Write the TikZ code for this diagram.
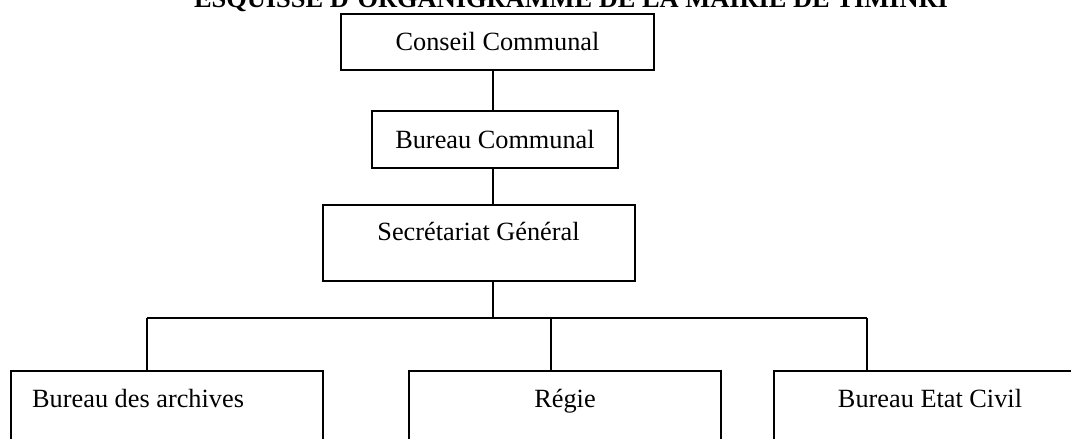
\documentclass[tikz,border=0pt]{standalone}
\usepackage{fontspec}
\setmainfont{Liberation Serif}
\begin{document}
\begin{tikzpicture}[x=1pt,y=-1pt,
  box/.style={draw=black,line width=1.6pt,inner sep=0pt,rectangle,
    font=\fontsize{26.3}{30}\selectfont},
  lbl/.style={inner sep=0pt,font=\fontsize{26.3}{30}\selectfont},
  ttl/.style={inner sep=0pt,font=\fontsize{26.4}{30}\selectfont\bfseries},
  link/.style={line width=1.6pt}]
\useasboundingbox (0,0) rectangle (1071,439);
\clip (0,0) rectangle (1071,439);
\fill[white] (0,0) rectangle (1071,439);
\node[ttl,anchor=base] (title) at (571,7) {ESQUISSE D'ORGANIGRAMME DE LA MAIRIE DE TIMINRI};
\node[box,minimum width=313pt,minimum height=56pt] (cc) at (497.5,42) {Conseil Communal};
\node[box,minimum width=246pt,minimum height=57pt] (bc) at (495,139.5) {Bureau Communal};
\node[box,minimum width=312pt,minimum height=76pt] (sg) at (479,243) {};
\node[lbl,anchor=base] (sgt) at (478.5,240) {Secrétariat Général};
\node[box,minimum width=312pt,minimum height=110pt] (b1) at (167,426) {};
\node[box,minimum width=312pt,minimum height=110pt] (b2) at (565,426) {};
\node[box,minimum width=312pt,minimum height=110pt] (b3) at (930,426) {};
\node[lbl,anchor=base west] (b1t) at (32,407) {Bureau des archives};
\node[lbl,anchor=base] (b2t) at (565,407) {Régie};
\node[lbl,anchor=base] (b3t) at (930,407) {Bureau Etat Civil};
\coordinate (spine) at (493,0);
\coordinate (j1) at (147,318);
\coordinate (j2) at (551,318);
\coordinate (j3) at (867,318);
\draw[link] (cc.south -| spine) -- (bc.north -| spine);
\draw[link] (bc.south -| spine) -- (sg.north -| spine);
\draw[link] (sg.south -| spine) -- (j1 -| spine);
\draw[link] (j1) -- (j3);
\draw[link] (j1) -- (j1 |- b1.north);
\draw[link] (j2) -- (j2 |- b2.north);
\draw[link] (j3) -- (j3 |- b3.north);
\end{tikzpicture}
\end{document}
